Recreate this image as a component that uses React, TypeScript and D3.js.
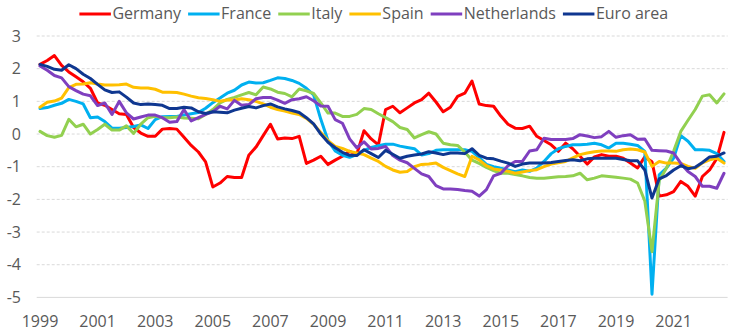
import React, { useEffect, useRef } from "react";
import * as d3 from "d3";

const years = d3.range(1999, 2023);
const quarters = years.flatMap((y) => [1, 2, 3, 4].map((q) => `${y}Q${q}`));
const tickYears = ["1999", "2001", "2003", "2005", "2007", "2009", "2011", "2013", "2015", "2017", "2019", "2021"];
const yTicks = [3, 2, 1, 0, -1, -2, -3, -4, -5];

const germany = [
  2.13, 2.25, 2.4, 2.1, 1.9, 1.75, 1.6, 1.4, 0.95, 0.88,
  0.75, 0.62, 0.6, 0.2, 0.03, -0.07, -0.07, 0.15, 0.17, 0.15,
  -0.1, -0.35, -0.55, -0.85, -1.62, -1.5, -1.3, -1.33, -1.33, -0.65,
  -0.4, -0.05, 0.3, -0.15, -0.12, -0.14, -0.07, -0.9, -0.8, -0.68,
  -0.93, -0.8, -0.68, -0.53, -0.62, 0.1, -0.15, -0.33, 0.75, 0.85,
  0.65, 0.8, 0.95, 1.05, 1.25, 0.98, 0.68, 0.82, 1.15, 1.25,
  1.62, 0.92, 0.87, 0.85, 0.55, 0.3, 0.18, 0.17, 0.24, -0.07,
  -0.2, -0.33, -0.53, -0.28, -0.45, -0.68, -0.92, -0.7, -0.63, -0.68,
  -0.68, -0.74, -0.89, -1.04, -0.7, -0.85, -1.9, -1.86, -1.76, -1.45,
  -1.6, -1.9, -1.3, -1.1, -0.75, 0.05,
];
const france = [
  0.78, 0.81, 0.88, 0.94, 1.06, 1.0, 0.92, 0.5, 0.52, 0.38,
  0.18, 0.18, 0.2, 0.23, 0.28, 0.17, 0.44, 0.53, 0.54, 0.54,
  0.58, 0.62, 0.66, 0.79, 0.96, 1.1, 1.25, 1.34, 1.5, 1.59,
  1.56, 1.57, 1.64, 1.72, 1.7, 1.64, 1.55, 1.4, 1.2, 0.45,
  -0.2, -0.52, -0.65, -0.71, -0.63, -0.5, -0.41, -0.36, -0.31, -0.31,
  -0.37, -0.41, -0.45, -0.64, -0.6, -0.5, -0.48, -0.48, -0.48, -0.48,
  -0.53, -0.72, -0.93, -1.0, -1.05, -1.1, -1.15, -1.1, -1.14, -1.04,
  -0.84, -0.6, -0.45, -0.38, -0.33, -0.33, -0.31, -0.28, -0.33, -0.43,
  -0.28, -0.28, -0.31, -0.35, -0.53, -4.9, -1.25, -1.04, -0.74, -0.05,
  -0.22, -0.48, -0.48, -0.5, -0.6, -0.84,
];
const italy = [
  0.08, -0.05, -0.1, -0.04, 0.45, 0.22, 0.3, 0.0, 0.14, 0.3,
  0.12, 0.12, 0.25, 0.02, 0.3, 0.5, 0.54, 0.5, 0.5, 0.52,
  0.49, 0.48, 0.47, 0.6, 0.75, 0.95, 1.06, 1.12, 1.2, 1.27,
  1.2, 1.44, 1.38, 1.28, 1.24, 1.14, 1.38, 1.32, 1.24, 0.95,
  0.64, 0.64, 0.54, 0.54, 0.6, 0.78, 0.75, 0.62, 0.5, 0.38,
  0.2, 0.14, -0.12, -0.02, 0.07, 0.0, -0.28, -0.33, -0.35, -0.55,
  -0.8, -0.9, -1.02, -1.12, -1.2, -1.2, -1.24, -1.28, -1.33, -1.35,
  -1.35, -1.33, -1.31, -1.3, -1.28, -1.2, -1.4, -1.35, -1.28, -1.3,
  -1.32, -1.35, -1.38, -1.5, -2.05, -3.6, -1.42, -1.05, -0.53, 0.08,
  0.42, 0.75, 1.16, 1.2, 0.95, 1.23,
];
const spain = [
  0.82, 0.97, 1.01, 1.1, 1.42, 1.52, 1.53, 1.57, 1.53, 1.5,
  1.5, 1.51, 1.53, 1.43, 1.41, 1.41, 1.37, 1.28, 1.28, 1.27,
  1.22, 1.16, 1.11, 1.09, 1.05, 1.0, 1.04, 1.04, 1.08, 1.05,
  1.0, 0.92, 0.82, 0.75, 0.7, 0.64, 0.6, 0.48, 0.3, 0.05,
  -0.2, -0.38, -0.44, -0.53, -0.58, -0.63, -0.74, -0.84, -0.99, -1.1,
  -1.17, -1.15, -1.0, -0.93, -0.92, -0.89, -1.02, -1.12, -1.22, -1.3,
  -0.68, -0.79, -0.97, -1.07, -1.1, -1.14, -1.2, -1.16, -1.12, -1.09,
  -1.0, -0.92, -0.88, -0.84, -0.73, -0.63, -0.58, -0.54, -0.52, -0.52,
  -0.53, -0.48, -0.46, -0.48, -0.55, -0.99, -0.84, -0.89, -0.89, -0.9,
  -0.99, -1.05, -0.88, -0.79, -0.74, -0.89,
];
const netherlands = [
  2.08, 1.95, 1.79, 1.72, 1.45, 1.33, 1.22, 1.17, 0.87, 0.95,
  0.6, 1.0, 0.65, 0.46, 0.52, 0.58, 0.58, 0.5, 0.36, 0.38,
  0.75, 0.4, 0.5, 0.6, 0.68, 0.85, 0.77, 1.03, 0.88, 0.9,
  1.08, 1.12, 1.12, 1.04, 0.94, 1.05, 1.08, 1.14, 1.02, 0.86,
  0.85, 0.44, 0.33, -0.15, -0.42, -0.24, -0.46, -0.44, -0.38, -0.66,
  -0.8, -0.88, -1.05, -1.22, -1.3, -1.58, -1.68, -1.68, -1.7, -1.73,
  -1.75, -1.9, -1.7, -1.28, -1.2, -0.97, -0.84, -0.84, -0.52, -0.48,
  -0.13, -0.17, -0.17, -0.17, -0.14, -0.02, -0.06, -0.11, -0.08, 0.08,
  -0.1, -0.05, -0.02, -0.16, -0.15, -0.5, -0.51, -0.52, -0.58, -0.9,
  -1.15, -1.3, -1.6, -1.6, -1.66, -1.2,
];
const euroArea = [
  2.13, 2.07, 1.98, 1.95, 2.12, 2.0, 1.83, 1.7, 1.52, 1.35,
  1.27, 1.29, 1.13, 0.95, 0.9, 0.92, 0.9, 0.88, 0.78, 0.78,
  0.82, 0.8, 0.68, 0.63, 0.68, 0.67, 0.65, 0.73, 0.79, 0.84,
  0.8, 0.87, 0.92, 0.83, 0.77, 0.72, 0.66, 0.5, 0.31, 0.0,
  -0.25, -0.42, -0.56, -0.65, -0.66, -0.48, -0.6, -0.72, -0.5, -0.62,
  -0.74, -0.68, -0.64, -0.61, -0.54, -0.58, -0.63, -0.58, -0.58, -0.6,
  -0.45, -0.65, -0.74, -0.76, -0.83, -0.89, -0.99, -0.92, -0.89, -0.89,
  -0.89, -0.87, -0.84, -0.81, -0.79, -0.82, -0.76, -0.74, -0.74, -0.74,
  -0.74, -0.78, -0.82, -0.82, -1.1, -1.96, -1.37, -1.27, -1.1, -0.97,
  -1.06, -1.02, -0.87, -0.7, -0.68, -0.58,
];

const seriesNames = ["Germany", "France", "Italy", "Spain", "Netherlands", "Euro area"];
const seriesValues = [germany, france, italy, spain, netherlands, euroArea];
const seriesColors = ["#FF0000", "#00B0F0", "#92D050", "#FFC000", "#7F3FBF", "#0F3790"];

const W = 732;
const H = 333;
const FONT = "'Open Sans', 'Liberation Sans', sans-serif";
const TEXT_COLOR = "#595959";

export default function App() {
  const ref = useRef<SVGSVGElement | null>(null);

  useEffect(() => {
    const svg = d3.select(ref.current);
    svg.selectAll("*").remove();

    const x = d3.scaleBand<string>().domain(quarters).range([36.4, 727.6]);
    const xc = (q: string) => (x(q) as number) + x.bandwidth() / 2;
    const y = d3.scaleLinear().domain([-5, 3]).range([297.4, 36]);

    // gridlines
    const grid = svg.append("g");
    yTicks.forEach((t) => {
      grid
        .append("line")
        .attr("x1", 36.7)
        .attr("x2", 727.6)
        .attr("y1", y(t))
        .attr("y2", y(t))
        .attr("stroke", "#D9D9D9")
        .attr("stroke-width", 1)
        .attr("stroke-dasharray", t === -5 ? null : "3,2");
    });

    // y labels
    const yl = svg.append("g");
    yTicks.forEach((t) => {
      yl.append("text")
        .attr("x", 21)
        .attr("y", y(t))
        .attr("dy", "0.36em")
        .attr("text-anchor", "end")
        .attr("font-family", FONT)
        .attr("font-size", 16)
        .attr("fill", TEXT_COLOR)
        .text(t < 0 ? `-${Math.abs(t)}` : `${t}`);
    });

    // x labels
    const xl = svg.append("g");
    tickYears.forEach((yr) => {
      xl.append("text")
        .attr("x", xc(`${yr}Q1`))
        .attr("y", 321)
        .attr("dy", "0.36em")
        .attr("text-anchor", "middle")
        .attr("font-family", FONT)
        .attr("font-size", 16)
        .attr("fill", TEXT_COLOR)
        .text(yr);
    });

    // lines
    const line = d3
      .line<number>()
      .x((_, i) => xc(quarters[i]))
      .y((d) => y(d));
    seriesValues.forEach((vals, k) => {
      svg
        .append("path")
        .attr("d", line(vals) as string)
        .attr("fill", "none")
        .attr("stroke", seriesColors[k])
        .attr("stroke-width", 3)
        .attr("stroke-linejoin", "round")
        .attr("stroke-linecap", "round");
    });

    // legend
    const lg = svg.append("g");
    let cx = 79.4;
    const ly = 14;
    seriesNames.forEach((name, k) => {
      lg.append("line")
        .attr("x1", cx)
        .attr("x2", cx + 31.5)
        .attr("y1", ly)
        .attr("y2", ly)
        .attr("stroke", seriesColors[k])
        .attr("stroke-width", 3);
      const t = lg
        .append("text")
        .attr("x", cx + 33)
        .attr("y", ly)
        .attr("dy", "0.34em")
        .attr("font-family", FONT)
        .attr("font-size", 16)
        .attr("fill", TEXT_COLOR)
        .text(name);
      const w = (t.node() as SVGTextElement).getComputedTextLength();
      cx = cx + 33 + w + 7;
    });
  }, []);

  return (
    <svg
      ref={ref}
      width={W}
      height={H}
      style={{ position: "absolute", left: 0, top: 0, background: "#fff" }}
    />
  );
}
